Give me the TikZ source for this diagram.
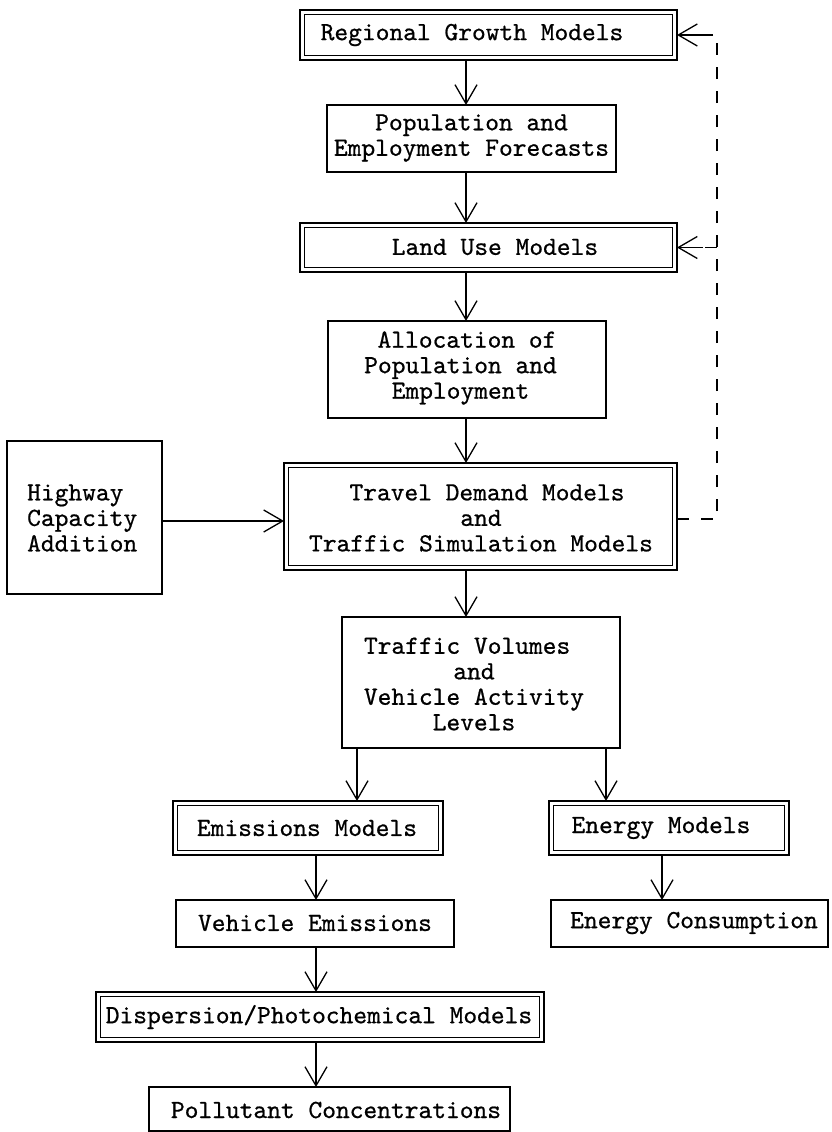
\documentclass[tikz,border=0pt]{standalone}
\usepackage{fontspec}
\newfontfamily\tyfont{lmmono10-regular}[Extension=.otf, FakeBold=0.7]
\usetikzlibrary{arrows.meta}
% inner line of a double-framed box
\newcommand\innerframe[1]{%
  \draw[line width=1pt] ([shift={(4.5,4.5)}]#1.north west) rectangle ([shift={(-4.5,-4.5)}]#1.south east);}
\begin{document}
\begin{tikzpicture}[x=1pt,y=-1pt,
  frame/.style={draw, line width=1.5pt, inner sep=0pt, outer sep=0pt},
  dframe/.style={draw, line width=2pt, inner sep=0pt, outer sep=0pt},
  txt/.style={font=\tyfont\fontsize{26.2}{25.5}\selectfont, align=center, inner sep=0pt},
  flow/.style={line width=1.3pt, -{Straight Barb[length=19pt,width=22pt]}},
  feedback/.style={line width=1.3pt, dash pattern=on 12pt off 12pt},
]
\fill[white] (0,0) rectangle (831,1132);
\useasboundingbox (0,0) rectangle (831,1132);

% boxes
\node[dframe, minimum width=377, minimum height=50] (rg) at (488.5,35) {};
\innerframe{rg}
\node[txt] (rg-t) at (472,35) {Regional Growth Models};

\node[frame, minimum width=289, minimum height=67] (pef) at (471.5,138.5) {};
\node[txt] (pef-t) at (471.5,138) {Population and\\Employment Forecasts};

\node[dframe, minimum width=377, minimum height=49] (lu) at (488.5,247.5) {};
\innerframe{lu}
\node[txt] (lu-t) at (495,247) {Land Use Models};

\node[frame, minimum width=278, minimum height=97] (al) at (467,369.5) {};
\node[txt] (al-t) at (460.5,368) {\hspace*{13pt}Allocation of\\Population and\\Employment};

\node[frame, minimum width=155, minimum height=153] (hw) at (84.5,517.5) {};
\node[txt, align=left, anchor=west] (hw-t) at (27,518) {Highway\\Capacity\\Addition};

\node[dframe, minimum width=393, minimum height=107] (tr) at (480.5,516.5) {};
\innerframe{tr}
\node[txt] (tr-t) at (481,518) {\hspace*{12pt}Travel Demand Models\\and\hspace*{28pt}\\Traffic Simulation Models};

\node[frame, minimum width=278, minimum height=131] (tv) at (481,682.5) {};
\node[txt] (tv-t) at (474,684) {Traffic Volumes\hspace*{13.75pt}\\and\hspace*{14pt}\\Vehicle Activity\\Levels};

\node[dframe, minimum width=270, minimum height=54] (em) at (308,828) {};
\innerframe{em}
\node[txt] (em-t) at (307,828) {Emissions Models};

\node[dframe, minimum width=240, minimum height=54] (en) at (669,828) {};
\innerframe{en}
\node[txt] (en-t) at (661,828) {Energy Models};

\node[frame, minimum width=278, minimum height=47] (ve) at (315,923.5) {};
\node[txt] (ve-t) at (315,923) {Vehicle Emissions};

\node[frame, minimum width=277, minimum height=47] (ec) at (689.5,923.5) {};
\node[txt] (ec-t) at (694,923) {Energy Consumption};

\node[dframe, minimum width=448, minimum height=50] (dp) at (320,1017) {};
\innerframe{dp}
\node[txt] (dp-t) at (319,1017) {Dispersion/Photochemical Models};

\node[frame, minimum width=361, minimum height=44] (pc) at (329.5,1109) {};
\node[txt] (pc-t) at (336,1110) {Pollutant Concentrations};

% guide coordinates for the connector lines
\coordinate (main) at (466,0);
\coordinate (hwy) at (0,521);
\coordinate (left) at (357,0);
\coordinate (right) at (606,0);
\coordinate (emis) at (316,0);
\coordinate (enrg) at (662,0);
\coordinate (fbx) at (717,0);
\coordinate (fby) at (0,519);

% main column
\draw[flow] (rg.south -| main) -- (pef.north -| main);
\draw[flow] (pef.south -| main) -- (lu.north -| main);
\draw[flow] (lu.south -| main) -- (al.north -| main);
\draw[flow] (al.south -| main) -- (tr.north -| main);
\draw[flow] (hw.east |- hwy) -- (tr.west |- hwy);
\draw[flow] (tr.south -| main) -- (tv.north -| main);

% branches
\draw[flow] (tv.south -| left) -- (em.north -| left);
\draw[flow] (tv.south -| right) -- (en.north -| right);
\draw[flow] (em.south -| emis) -- (ve.north -| emis);
\draw[flow] (ve.south -| emis) -- (dp.north -| emis);
\draw[flow] (dp.south -| emis) -- (pc.north -| emis);
\draw[flow] (en.south -| enrg) -- (ec.north -| enrg);

% feedback loop
\draw[feedback] (tr.east |- fby) -- (fbx |- fby) -- (fbx |- rg.east) -- ([xshift=26]rg.east);
\draw[flow] ([xshift=26]rg.east) -- (rg.east);
\draw[feedback] (fbx |- lu.east) -- ([xshift=26]lu.east);
\draw[flow] ([xshift=26]lu.east) -- (lu.east);
\end{tikzpicture}
\end{document}
